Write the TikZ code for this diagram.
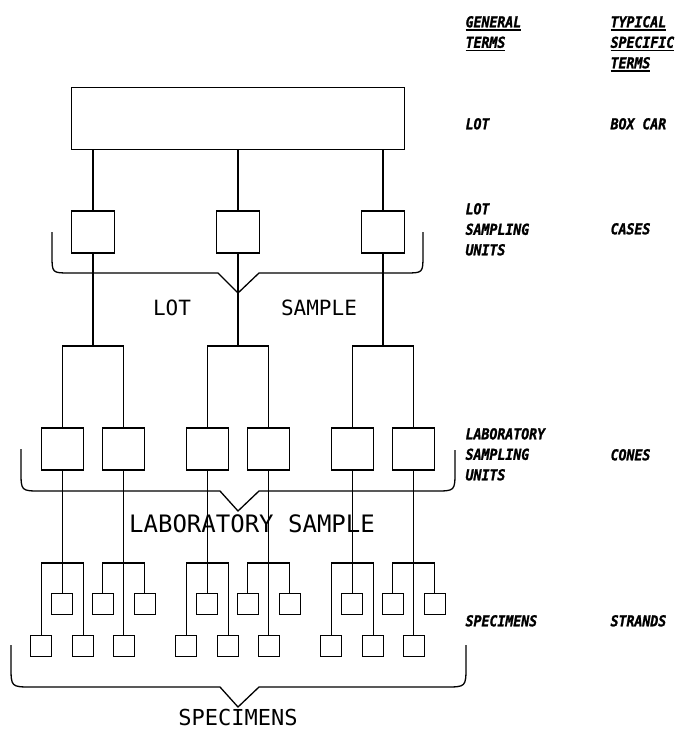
\documentclass[tikz,border=0pt]{standalone}
\usepackage{fontspec}
\newfontfamily\plotfont{DejaVu Sans Mono}
\newfontfamily\termfont[FakeStretch=0.88, BoldItalicFeatures={FakeBold=1.5}]{DejaVu Sans Mono}
% thick underline for the column heads
\newcommand\uterm[1]{\setbox0\hbox{#1}\rlap{\rule[-3.5pt]{\wd0}{1.4pt}}\box0}

\begin{document}
\begin{tikzpicture}[x=1pt, y=-1pt, line width=1.3pt,
    unitbox/.style={draw, inner sep=0, minimum width=42.5pt, minimum height=42pt},
    specbox/.style={draw, inner sep=0, minimum size=21pt},
    term/.style={anchor=north west, inner sep=0, align=left,
        font=\termfont\bfseries\itshape\fontsize{15}{20.5}\selectfont},
    caption/.style={inner sep=0, font=\plotfont\fontsize{22}{26}\selectfont}]

    \useasboundingbox (0,0) rectangle (678,731);

    % --- Lot and lot sampling units ---
    \node[draw, inner sep=0, minimum width=332.4pt, minimum height=62pt] (lot) at (238,118.3) {};

    \foreach \x [count=\i] in {93,238,383} {
        \node[unitbox] (unit\i) at (\x,232) {};
        \draw (lot.south -| unit\i) -- (unit\i.north);
    }

    % --- Laboratory sampling units ---
    \foreach \x [count=\i] in {62.3,123.7,207.3,268.7,352.3,413.7}
        \node[unitbox, minimum width=42pt] (lab\i) at (\x,449) {};

    \foreach \i/\a/\b in {1/1/2, 2/3/4, 3/5/6} {
        \coordinate (fork\i) at (unit\i.south |- 0,346);
        \draw (unit\i.south) -- (fork\i);
        \draw (lab\a.north) |- (fork\i) -| (lab\b.north);
    }

    % --- Specimens (middle one up or down, outer two the other way) ---
    \foreach \x/\ym/\ye [count=\i] in {62.3/604/646, 123.7/646/604, 207.3/604/646,
                                       268.7/646/604, 352.3/604/646, 413.7/646/604} {
        \node[specbox] (sm\i) at (\x,\ym) {};
        \node[specbox] (sl\i) at (\x-21,\ye) {};
        \node[specbox] (sr\i) at (\x+21,\ye) {};
        \coordinate (split\i) at (\x,563);
        \draw (lab\i.south) -- (sm\i.north);
        \draw (sl\i.north) |- (split\i) -| (sr\i.north);
    }

    % --- Braces ---
    \draw (52,232) -- (52,255) .. controls (52,273) .. (70,273) -- (218,273)
        -- (238,293) coordinate (tip1) -- (259,273) -- (405,273)
        .. controls (423,273) .. (423,255) -- (423,232);
    \draw (21,449) -- (21,471) .. controls (21,491) .. (41,491) -- (220,491)
        -- (238,511) coordinate (tip2) -- (259,491) -- (435,491)
        .. controls (455,491) .. (455,471) -- (455,450);
    \draw (11,645) -- (11,666) .. controls (11,687) .. (32,687) -- (220,687)
        -- (238,707) coordinate (tip3) -- (259,687) -- (445,687)
        .. controls (466,687) .. (466,666) -- (466,645);

    \node[caption, font=\plotfont\fontsize{21}{25}\selectfont] (lotword) at (172,308) {LOT};
    \node[caption, font=\plotfont\fontsize{21}{25}\selectfont] (sampleword) at (319,308) {SAMPLE};
    \node[caption, font=\plotfont\fontsize{24}{28}\selectfont] (labsample) at (252,524) {LABORATORY SAMPLE};
    \node[caption] (specimens) at (238,717) {SPECIMENS};

    % --- Terms column ---
    \node[term] (genhead) at (465,15.5) {\uterm{GENERAL}\\\uterm{TERMS}};
    \node[term] (typhead) at (610,15.5) {\uterm{TYPICAL}\\\uterm{SPECIFIC}\\\uterm{TERMS}};
    \node[term] (lotgen) at (465,117.5) {LOT};
    \node[term] (lottyp) at (610,117.5) {BOX CAR};
    \node[term] (unitgen) at (465,202.5) {LOT\\SAMPLING\\UNITS};
    \node[term] (unittyp) at (610,222.5) {CASES};
    \node[term] (labgen) at (465,427.5) {LABORATORY\\SAMPLING\\UNITS};
    \node[term] (labtyp) at (610,448.5) {CONES};
    \node[term] (specgen) at (465,614.5) {SPECIMENS};
    \node[term] (spectyp) at (610,614.5) {STRANDS};

\end{tikzpicture}
\end{document}
